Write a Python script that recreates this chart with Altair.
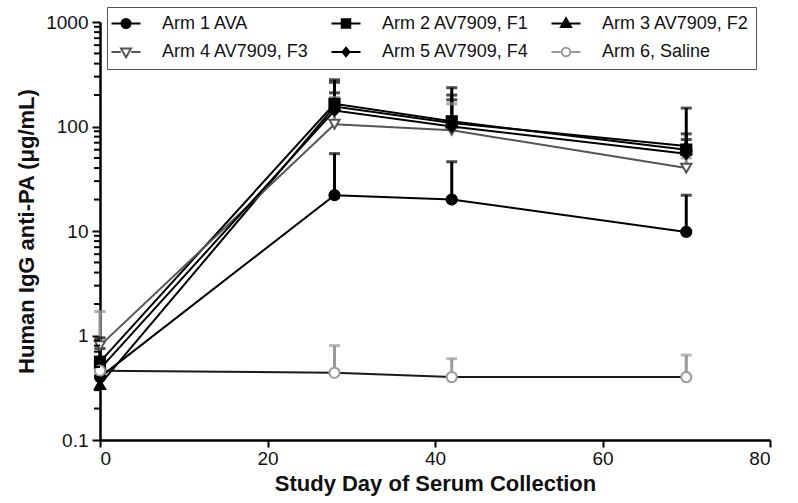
import altair as alt
import pandas as pd

# ---------------- data ----------------
days = [0, 28, 42, 70]
arms = ["Arm 1 AVA", "Arm 2 AV7909, F1", "Arm 3 AV7909, F2",
        "Arm 4 AV7909, F3", "Arm 5 AV7909, F4", "Arm 6, Saline"]

arm1_mean = [0.40, 22, 20, 9.8]
arm1_upper = [0.55, 55, 46, 22]
arm2_mean = [0.56, 165, 112, 60]
arm2_upper = [0.75, 280, 235, 85]
arm3_mean = [0.34, 155, 108, 65]
arm3_upper = [0.95, 265, 200, 150]
arm4_mean = [0.80, 105, 92, 40]
arm4_upper = [1.7, 190, 165, 50]
arm5_mean = [0.48, 142, 100, 55]
arm5_upper = [0.62, 210, 180, 75]
arm6_mean = [0.46, 0.44, 0.40, 0.40]
arm6_upper = [0.50, 0.80, 0.60, 0.65]

means = [arm1_mean, arm2_mean, arm3_mean, arm4_mean, arm5_mean, arm6_mean]
uppers = [arm1_upper, arm2_upper, arm3_upper, arm4_upper, arm5_upper, arm6_upper]

x_ticks = [0, 20, 40, 60, 80]
y_major = [0.1, 1, 10, 100, 1000]
y_minor = [m * d for d in [0.1, 1, 10, 100] for m in range(2, 10)]

rows = []
for a, ms, us in zip(arms, means, uppers):
    for d, m, u in zip(days, ms, us):
        rows.append({"arm": a, "day": d, "mean": m, "upper": u})
df = pd.DataFrame(rows)
minor_df = pd.DataFrame({"minor": y_minor, "zero": [0] * len(y_minor)})

# ---------------- styles ----------------
line_colors = ["#000000", "#000000", "#000000", "#555555", "#000000", "#1a1a1a"]
bar_colors = ["#000000", "#000000", "#000000", "#8c8c8c", "#000000", "#9a9a9a"]
pt_stroke = ["#000000", "#000000", "#000000", "#555555", "#000000", "#9a9a9a"]
pt_fill = ["#000000", "#000000", "#000000", "#ffffff", "#000000", "#ffffff"]
pt_shapes = ["circle", "square", "triangle-up", "triangle-down", "diamond", "circle"]

seg = "M-2.9,0L-1.05,0M1.05,0L2.9,0"
legend_paths = [
    "M-2.9,0L2.9,0M0.9,0A0.9,0.9 0 1,1 -0.9,0A0.9,0.9 0 1,1 0.9,0Z",
    "M-2.9,0L2.9,0M-0.85,-0.85L0.85,-0.85L0.85,0.85L-0.85,0.85Z",
    "M-2.9,0L2.9,0M0,-1.05L1,0.7L-1,0.7Z",
    seg + "M0,1.05L1,-0.7L-1,-0.7Z",
    "M-2.9,0L2.9,0M0,-0.85L0.7,0L0,0.85L-0.7,0Z",
    seg + "M0.85,0A0.85,0.85 0 1,1 -0.85,0A0.85,0.85 0 1,1 0.85,0Z",
]

FONT = "Liberation Sans"

x_scale = alt.Scale(domain=[0, 80], nice=False, zero=False)
y_scale = alt.Scale(type="log", domain=[0.1, 1000], nice=False)

x_axis = alt.Axis(values=x_ticks, title="Study Day of Serum Collection",
                  tickSize=7, labelPadding=2, titlePadding=5, grid=False)
y_axis = alt.Axis(values=y_major, format="~g",
                  labelOverlap=False, labelPadding=4, tickSize=8,
                  title="Human IgG anti-PA (μg/mL)", titlePadding=7, grid=False)

X = alt.X("day:Q", scale=x_scale, axis=x_axis)
Y = alt.Y("mean:Q", scale=y_scale, axis=y_axis)
Yup = alt.Y("upper:Q", scale=y_scale, axis=y_axis)

base = alt.Chart(df)

lines = base.mark_line(strokeWidth=2).encode(
    x=X, y=Y,
    stroke=alt.Stroke("arm:N", scale=alt.Scale(domain=arms, range=line_colors), legend=None),
)

bars = base.mark_rule(strokeWidth=3).encode(
    x=X, y=Y, y2="upper:Q",
    stroke=alt.Stroke("arm:N", scale=alt.Scale(domain=arms, range=bar_colors), legend=None),
)

caps = base.mark_tick(orient="horizontal", size=11, thickness=3).encode(
    x=X, y=Yup,
    color=alt.Color("arm:N", scale=alt.Scale(domain=arms, range=bar_colors), legend=None),
)

points = base.mark_point(strokeWidth=2, size=105, opacity=1).encode(
    x=X, y=Y,
    shape=alt.Shape("arm:N", scale=alt.Scale(domain=arms, range=pt_shapes), legend=None),
    fill=alt.Fill("arm:N", scale=alt.Scale(domain=arms, range=pt_fill), legend=None),
    stroke=alt.Stroke("arm:N", scale=alt.Scale(domain=arms, range=pt_stroke), legend=None),
)

# minor tick marks of the log axis (drawn at day 0, pointing left of the axis)
minor_ticks = alt.Chart(minor_df).mark_tick(
    orient="horizontal", size=6, thickness=2, color="black", opacity=1, xOffset=-3
).encode(
    x=alt.X("zero:Q", scale=x_scale, axis=x_axis),
    y=alt.Y("minor:Q", scale=y_scale, axis=y_axis),
)

leg = alt.Legend(title=None, orient="none", legendX=7, legendY=-15, columns=3,
                 direction="horizontal", gridAlign="all",
                 strokeColor="#555555", fillColor="white", padding=7,
                 labelFont=FONT, labelFontSize=18, labelColor="#111111", labelLimit=400,
                 symbolSize=100, symbolStrokeWidth=2, rowPadding=10, columnPadding=18,
                 labelOffset=27, symbolOffset=3)

legend_layer = base.transform_filter("false").mark_point(strokeWidth=2, opacity=1).encode(
    x=X, y=Y,
    shape=alt.Shape("arm:N", scale=alt.Scale(domain=arms, range=legend_paths), legend=leg),
    fill=alt.Fill("arm:N", scale=alt.Scale(domain=arms, range=pt_fill), legend=leg),
    stroke=alt.Stroke("arm:N", scale=alt.Scale(domain=arms, range=pt_stroke), legend=leg),
)

chart = alt.layer(lines, bars, caps, points, legend_layer, minor_ticks).resolve_scale(
    stroke="independent", fill="independent", shape="independent", color="independent"
).properties(
    width=670, height=418,
    autosize=alt.AutoSizeParams(type="none"),
    padding={"left": 100, "top": 22, "right": 28, "bottom": 63},
    background="white",
).configure_view(stroke=None).configure_axis(
    domainColor="black", domainWidth=2.5, tickColor="black", tickWidth=2,
    labelFont=FONT, labelFontSize=19, labelColor="#111111",
    titleFont=FONT, titleFontSize=22, titleFontWeight="bold", titleColor="#111111",
)

chart.save("out.html", embed_options={"renderer": "svg", "actions": False})
